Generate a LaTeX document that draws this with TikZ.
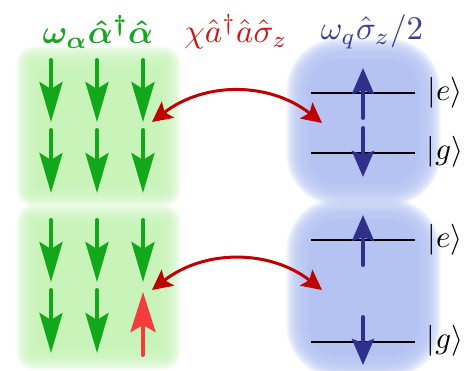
\documentclass[tikz,border=0pt]{standalone}
\usepackage{amsmath}
\usepackage{graphicx}
\usetikzlibrary{arrows.meta}
\definecolor{ggreen}{RGB}{19,168,26}
\definecolor{gtitle}{RGB}{25,165,35}
\definecolor{gbg}{RGB}{200,243,185}
\definecolor{bbg}{RGB}{180,195,242}
\definecolor{barrow}{RGB}{48,48,140}
\definecolor{btitle}{RGB}{60,60,150}
\definecolor{rdark}{RGB}{190,0,0}
\definecolor{rtitle}{RGB}{200,25,25}
\definecolor{rup}{RGB}{245,60,60}
\tikzset{
  garrow/.style={ggreen, line width=4pt, line cap=round, -{Stealth[length=40pt,width=23pt,inset=7pt]}},
  rarrow/.style={rup, line width=4pt, line cap=round, -{Stealth[length=40pt,width=25pt,inset=7pt]}},
  barr/.style={barrow, line width=4pt, line cap=round, -{Stealth[length=26pt,width=22pt,inset=4pt]}},
  coup/.style={rdark, line width=3pt, {Stealth[length=20pt,width=20pt,inset=4pt]}-{Stealth[length=20pt,width=20pt,inset=4pt]}},
  level/.style={black, line width=2.6pt},
  ket/.style={inner sep=0pt},
  title/.style={inner sep=0pt}
}
\newcommand{\mybigmath}[2]{\scalebox{#1}{$#2$}}
\newcommand{\softbox}[6]{%
  \foreach \i in {12,11.5,...,-10} {
    \pgfmathsetmacro{\rr}{max(#6+\i,1)}
    \fill[#1, opacity=0.065, rounded corners=\rr pt] ({#2-\i},{#3-\i}) rectangle ({#4+\i},{#5+\i});
  }
  \pgfmathsetmacro{\rr}{max(#6-10,1)}
  \fill[#1, rounded corners=\rr pt] ({#2+10},{#3+10}) rectangle ({#4-10},{#5-10});
}
\begin{document}
\begin{tikzpicture}[x=1pt,y=-1pt]
\useasboundingbox (0,0) rectangle (469,370);
% backgrounds
\softbox{gbg}{28}{58}{169}{195}{6}
\softbox{gbg}{28}{216}{169}{358}{6}
\softbox{bbg}{298}{50}{429}{194}{40}
\softbox{bbg}{298}{210}{429}{366}{40}
% titles
\node[title, text=gtitle] (t1) at (98,32) {\mybigmath{3.3}{\boldsymbol{\omega_\alpha\hat{\alpha}^\dagger\hat{\alpha}}}};
\node[title, text=rtitle] (t2) at (236,32) {\mybigmath{3.3}{\chi\hat{a}^\dagger\hat{a}\hat{\sigma}_z}};
\node[title, text=btitle] (t3) at (372,32) {\mybigmath{3.3}{\omega_q\hat{\sigma}_z/2}};
% green arrows top
\foreach \x in {51,97,143} {
  \draw[garrow] (\x,60) -- (\x,122);
  \draw[garrow] (\x,130) -- (\x,193);
}
% green arrows bottom
\foreach \x in {51,97,143} {
  \draw[garrow] (\x,220) -- (\x,282);
}
\foreach \x in {51,97} {
  \draw[garrow] (\x,290) -- (\x,353);
}
\draw[rarrow] (143,355) -- (143,292);
% levels top
\coordinate (e1a) at (311,93); \coordinate (e1b) at (415,93);
\coordinate (g1a) at (311,153); \coordinate (g1b) at (415,153);
\draw[level] (e1a) -- (e1b);
\draw[level] (g1a) -- (g1b);
\node[ket] (ke1) at (445,93) {\mybigmath{3.1}{|e\rangle}};
\node[ket] (kg1) at (445,152) {\mybigmath{3.1}{|g\rangle}};
\draw[barr] (363,118) -- (363,68);
\draw[barr] (363,128) -- (363,177);
% levels bottom
\coordinate (e2a) at (311,240); \coordinate (e2b) at (415,240);
\coordinate (g2a) at (311,342); \coordinate (g2b) at (415,342);
\draw[level] (e2a) -- (e2b);
\draw[level] (g2a) -- (g2b);
\node[ket] (ke2) at (445,240) {\mybigmath{3.1}{|e\rangle}};
\node[ket] (kg2) at (445,341) {\mybigmath{3.1}{|g\rangle}};
\draw[barr] (363,265) -- (363,215);
\draw[barr] (363,317) -- (363,365);
% coupling arrows
\coordinate (c1a) at (152,122); \coordinate (c1b) at (322,123);
\coordinate (c2a) at (152,290); \coordinate (c2b) at (322,290);
\draw[coup] (c1a) to[bend left=38] (c1b);
\draw[coup] (c2a) to[bend left=38] (c2b);
\end{tikzpicture}
\end{document}
